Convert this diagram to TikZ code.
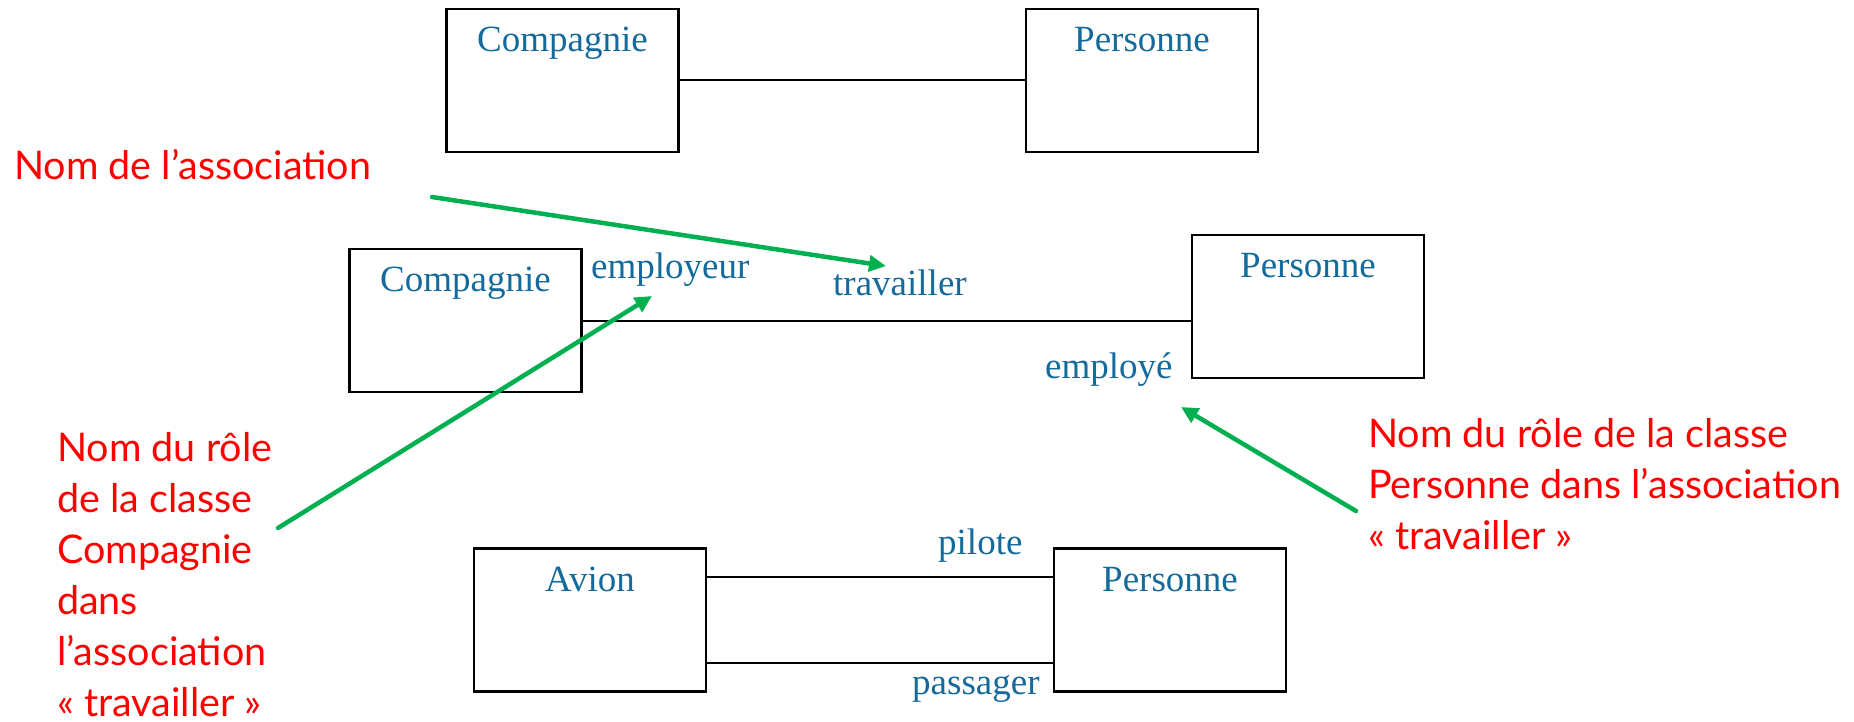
\documentclass[tikz,border=0pt]{standalone}
\usepackage{fontspec}
\setmainfont{Liberation Serif}
\newfontfamily\notefont{Lato}
\usetikzlibrary{arrows.meta}
\definecolor{umlblue}{RGB}{21,106,156}
\definecolor{notered}{RGB}{255,0,0}
\definecolor{pointer}{RGB}{0,176,80}
\begin{document}
\begin{tikzpicture}[x=1pt,y=-1pt,
  classbox/.style={draw=black, line width=2.2pt, minimum width=232pt, minimum height=143pt, inner sep=0pt},
  classname/.style={anchor=base, text=umlblue, font=\fontsize{37}{40}\selectfont, inner sep=0pt},
  rolename/.style={anchor=base west, text=umlblue, font=\fontsize{37}{40}\selectfont, inner sep=0pt},
  assoc/.style={draw=black, line width=2pt},
  note/.style={anchor=base west, text=notered, font=\notefont\fontsize{39.5}{51}\selectfont, inner sep=0pt, align=left},
  pointer/.style={draw=pointer, line width=4.5pt, line cap=round, -{Triangle[length=17pt,width=16pt]}}
]
\useasboundingbox (0,0) rectangle (1854,722);

% classes
\node[classbox] (c1) at (562.5,80.5) {};
\node[classbox] (p1) at (1142,80.5) {};
\node[classbox] (c2) at (465.5,320.5) {};
\node[classbox] (p2) at (1308,306.5) {};
\node[classbox] (av) at (590,620) {};
\node[classbox] (p3) at (1170,620) {};

\node[classname] (c1n) at ([yshift=-44pt]c1.north) {Compagnie};
\node[classname] (p1n) at ([yshift=-44pt]p1.north) {Personne};
\node[classname] (c2n) at ([yshift=-44pt]c2.north) {Compagnie};
\node[classname] (p2n) at ([yshift=-44pt]p2.north) {Personne};
\node[classname] (avn) at ([yshift=-44pt]av.north) {Avion};
\node[classname] (p3n) at ([yshift=-44pt]p3.north) {Personne};

% associations
\draw[assoc] (c1.east) -- (p1.west);
\draw[assoc] (c2.east) -- (c2.east -| p2.west);
\draw[assoc] ([yshift=43pt]av.east) -- ([yshift=43pt]p3.west);
\draw[assoc] ([yshift=-43pt]av.east) -- ([yshift=-43pt]p3.west);

% role and association names
\node[rolename] (employeur) at (591,278) {employeur};
\node[rolename] (travailler) at (833,295) {travailler};
\node[rolename] (employe) at (1045,378) {employé};
\node[rolename] (pilote) at (938,554) {pilote};
\node[rolename] (passager) at (912,694) {passager};

% notes (base anchor sits on the last line)
\node[note] (n1) at (14,180) {Nom de l’association};
\node[note] (n2) at (57,716) {Nom du rôle\\de la classe\\Compagnie\\dans\\l’association\\« travailler »};
\node[note] (n3) at (1368,549) {Nom du rôle de la classe\\Personne dans l’association\\« travailler »};

% pointers
\coordinate (a1s) at (432,197);
\coordinate (a1e) at (886,266);
\coordinate (a2s) at (278,528);
\coordinate (a2e) at (652,296);
\coordinate (a3s) at (1356,511);
\coordinate (a3e) at (1181,407);
\draw[pointer] (a1s) -- (a1e);
\draw[pointer] (a2s) -- (a2e);
\draw[pointer] (a3s) -- (a3e);
\end{tikzpicture}
\end{document}
